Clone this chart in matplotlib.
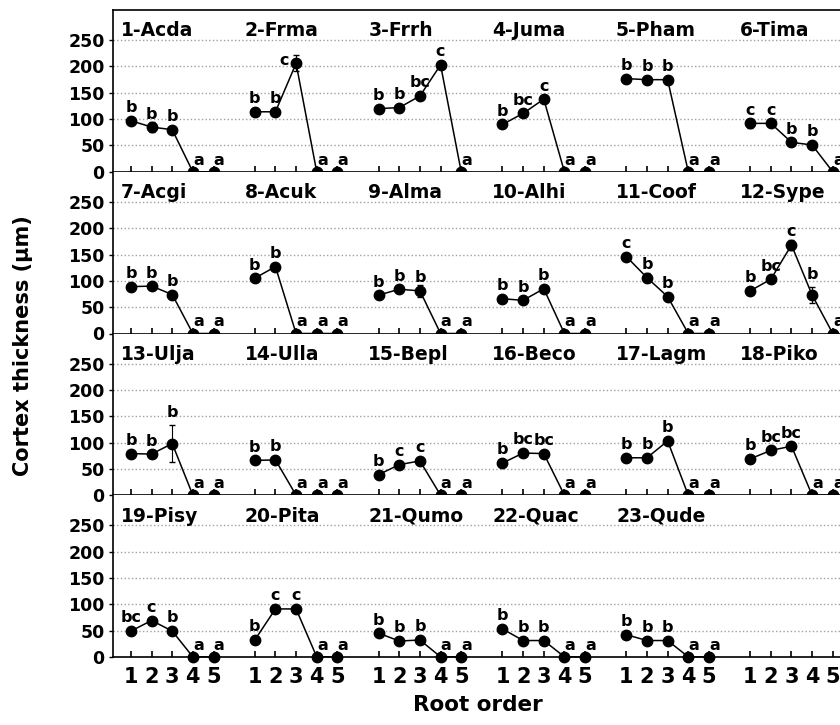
import matplotlib
matplotlib.use("Agg")
import matplotlib.pyplot as plt

plt.rcParams["font.family"] = ["DejaVu Sans"]
plt.rcParams["font.weight"] = "bold"

# species panels, 6 per row
species = ["1-Acda", "2-Frma", "3-Frrh", "4-Juma", "5-Pham", "6-Tima",
           "7-Acgi", "8-Acuk", "9-Alma", "10-Alhi", "11-Coof", "12-Sype",
           "13-Ulja", "14-Ulla", "15-Bepl", "16-Beco", "17-Lagm", "18-Piko",
           "19-Pisy", "20-Pita", "21-Qumo", "22-Quac", "23-Qude"]

root_orders = [1, 2, 3, 4, 5]

# cortex thickness (um) for root orders 1-5
thickness = [
    [97, 85, 80, 0, 0],
    [114, 114, 206, 0, 0],
    [120, 122, 144, 203, 0],
    [90, 111, 138, 0, 0],
    [177, 175, 175, 0, 0],
    [92, 92, 56, 51, 0],
    [89, 90, 74, 0, 0],
    [105, 127, 0, 0, 0],
    [73, 84, 81, 0, 0],
    [66, 63, 85, 0, 0],
    [146, 106, 70, 0, 0],
    [81, 103, 168, 73, 0],
    [79, 78, 98, 0, 0],
    [66, 67, 0, 0, 0],
    [39, 58, 65, 0, 0],
    [61, 80, 79, 0, 0],
    [71, 71, 103, 0, 0],
    [69, 85, 93, 0, 0],
    [49, 69, 49, 0, 0],
    [32, 91, 91, 0, 0],
    [45, 30, 32, 0, 0],
    [53, 31, 31, 0, 0],
    [42, 31, 31, 0, 0],
]

errors = [
    [4, 9, 4, 0, 0],
    [3, 3, 15, 0, 0],
    [3, 3, 5, 4, 0],
    [3, 3, 4, 0, 0],
    [3, 3, 3, 0, 0],
    [8, 4, 4, 3, 0],
    [3, 3, 3, 0, 0],
    [4, 3, 0, 0, 0],
    [3, 3, 12, 0, 0],
    [3, 3, 3, 0, 0],
    [3, 9, 3, 0, 0],
    [3, 3, 9, 15, 0],
    [3, 7, 35, 0, 0],
    [3, 3, 0, 0, 0],
    [3, 3, 3, 0, 0],
    [3, 5, 3, 0, 0],
    [3, 3, 3, 0, 0],
    [3, 3, 3, 0, 0],
    [3, 3, 3, 0, 0],
    [3, 3, 3, 0, 0],
    [3, 3, 3, 0, 0],
    [3, 3, 3, 0, 0],
    [3, 3, 3, 0, 0],
]

letters = [
    ["b", "b", "b", "a", "a"],
    ["b", "b", "c", "a", "a"],
    ["b", "b", "bc", "c", "a"],
    ["b", "bc", "c", "a", "a"],
    ["b", "b", "b", "a", "a"],
    ["c", "c", "b", "b", "a"],
    ["b", "b", "b", "a", "a"],
    ["b", "b", "a", "a", "a"],
    ["b", "b", "b", "a", "a"],
    ["b", "b", "b", "a", "a"],
    ["c", "b", "b", "a", "a"],
    ["b", "bc", "c", "b", "a"],
    ["b", "b", "b", "a", "a"],
    ["b", "b", "a", "a", "a"],
    ["b", "c", "c", "a", "a"],
    ["b", "bc", "bc", "a", "a"],
    ["b", "b", "b", "a", "a"],
    ["b", "bc", "bc", "a", "a"],
    ["bc", "c", "b", "a", "a"],
    ["b", "c", "c", "a", "a"],
    ["b", "b", "b", "a", "a"],
    ["b", "b", "b", "a", "a"],
    ["b", "b", "b", "a", "a"],
]

n_rows, n_cols, gap = 4, 6, 6

fig = plt.figure(figsize=(8.4, 7.25), dpi=100)
axes = fig.subplots(n_rows, 1, sharex=True)
fig.subplots_adjust(left=0.1345, right=1.0, top=0.986, bottom=0.094, hspace=0)

xticks = [gap * g + k for g in range(n_cols) for k in root_orders]

for r, ax in enumerate(axes):
    for c in range(n_cols):
        i = r * n_cols + c
        if i >= len(species):
            continue
        x = [gap * c + k for k in root_orders]
        y = thickness[i]
        ax.errorbar(x, y, yerr=errors[i], fmt="-o", color="black", ms=7.5,
                    lw=1.1, elinewidth=0.8, capsize=2.5, clip_on=False, zorder=5)
        ax.text(gap * c + 0.5, 257, species[i], fontsize=13.5,
                fontweight="bold", ha="left", va="baseline")
        for xi, yi, ei, lab in zip(x, y, errors[i], letters[i]):
            if yi + ei > 200 and ei >= 10:
                # tall error bar near the title: letter goes to the left
                ax.annotate(lab, (xi, yi), xytext=(-5, 2),
                            textcoords="offset points", ha="right", va="center",
                            fontsize=11.5, fontweight="bold", zorder=6,
                            annotation_clip=False)
                continue
            base = yi + ei if ei >= 15 else yi
            dx, dy = (4, 3) if yi == 0 else (0, 4)
            ax.annotate(lab, (xi, base), xytext=(dx, dy),
                        textcoords="offset points", ha="center", va="bottom",
                        fontsize=11.5, fontweight="bold", zorder=6,
                        annotation_clip=False)

    ax.set_ylim(0, 307)
    ax.set_xlim(0.13, 35.35)
    ax.set_yticks([0, 50, 100, 150, 200, 250])
    ax.yaxis.grid(True, linestyle=":", color="#a0a0a0", lw=1)
    ax.set_axisbelow(True)
    ax.tick_params(axis="y", direction="out", length=3, width=1,
                   labelsize=12.5, pad=3)
    ax.tick_params(axis="x", direction="in", length=4, width=1.2,
                   labelsize=15, pad=7)
    ax.set_xticks(xticks)
    ax.set_xticklabels([str(k) for g in range(n_cols) for k in root_orders])
    for lab in ax.get_yticklabels() + ax.get_xticklabels():
        lab.set_fontweight("bold")
    ax.spines["right"].set_visible(False)
    if r > 0:
        ax.spines["top"].set_visible(False)
    for s in ("left", "bottom", "top"):
        ax.spines[s].set_linewidth(1.2)

fig.text(0.027, 0.523, "Cortex thickness (\u03bcm)", rotation=90,
         fontsize=15, fontweight="bold", ha="center", va="center")
fig.text(0.569, 0.028, "Root order", fontsize=15.5, fontweight="bold",
         ha="center", va="center")

fig.savefig("out.png", dpi=100)
